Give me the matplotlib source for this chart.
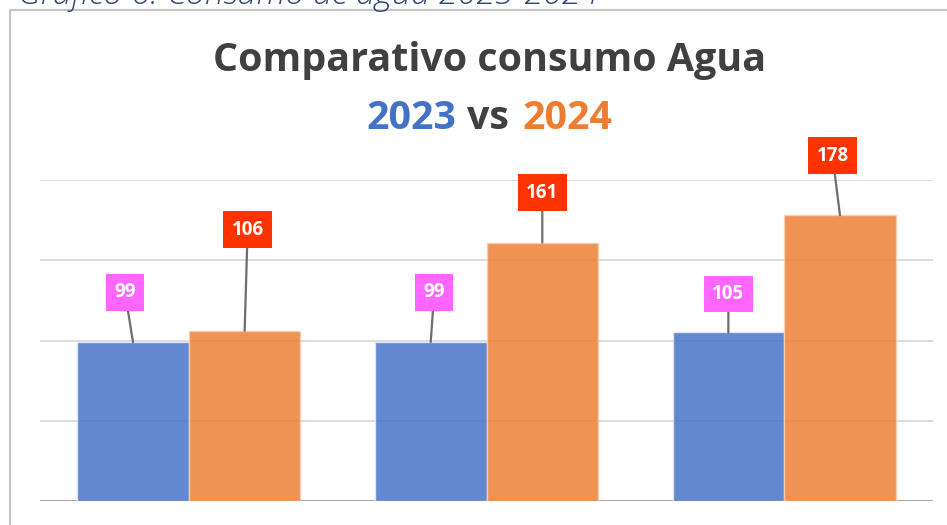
import matplotlib
matplotlib.use("Agg")
import matplotlib.pyplot as plt
from matplotlib.patches import Rectangle
import numpy as np

# Water consumption per period, 2023 vs 2024
periods = ["P1", "P2", "P3"]
consumo_2023 = [99, 99, 105]
consumo_2024 = [106, 161, 178]

# Label placement: (horizontal shift in category units, height above the bar value)
label_shift_2023 = [(-0.027, 31), (0.012, 31), (0.0, 24)]
label_shift_2024 = [(0.010, 63), (0.0, 31), (-0.025, 37)]

W, H = 947, 525
fig = plt.figure(figsize=(W / 100, H / 100), dpi=100)
fig.patch.set_facecolor("white")

def px(x, y):
    """Pixel coordinates (top-left origin) to figure fraction."""
    return x / W, 1 - y / H

# Chart frame
fig.patches.append(Rectangle((10 / W, 0 - 0.1), 1.2, (1 - 10 / H) + 0.1,
                             transform=fig.transFigure, fill=False,
                             edgecolor="#C4C4C4", linewidth=1.5, zorder=0))

# Caption above the frame
fig.text(*px(18, 4), "Gráfico 6. Consumo de agua 2023-2024", fontsize=24.5,
         style="italic", family="Open Sans", weight="light", color="#2F4677",
         ha="left", va="baseline")

# Chart title
title_font = dict(fontsize=28.4, weight="bold", family="Open Sans", va="baseline")
fig.text(*px(490, 71), "Comparativo consumo Agua", color="#404040",
         ha="center", **title_font)
fig.text(*px(456, 129), "2023", color="#4472C4", ha="right", **title_font)
fig.text(*px(488, 129), "vs", color="#404040", ha="center", **title_font)
fig.text(*px(522, 129), "2024", color="#ED7D31", ha="left", **title_font)

# Plot area
left, right, top, bottom = 40, 933, 180, 501
ax = fig.add_axes([left / W, 1 - bottom / H, (right - left) / W, (bottom - top) / H])
ax.set_xlim(-0.5, len(periods) - 0.5)
ax.set_ylim(0, 200)
for s in ax.spines.values():
    s.set_visible(False)
ax.set_xticks([])
ax.set_yticks([50, 100, 150, 200])
ax.tick_params(axis="y", length=0, labelleft=False)
ax.yaxis.grid(True, color="#D9D9D9", linewidth=1.3)
ax.set_axisbelow(True)
ax.axhline(0, color="#A6A6A6", linewidth=2.2, zorder=1)

x = np.arange(len(periods))
bw = 0.375
ax.bar(x - bw / 2, consumo_2023, bw, color="#4C78C9", alpha=0.88,
       edgecolor="#E6E9F2", linewidth=1, zorder=2)
ax.bar(x + bw / 2, consumo_2024, bw, color="#ED843C", alpha=0.88,
       edgecolor="#F6CFB2", linewidth=1, zorder=2)

def add_labels(xs, values, shifts, box_color):
    for xi, v, (dx, dy) in zip(xs, values, shifts):
        ax.annotate(str(v), xy=(xi, v), xytext=(xi + dx, v + dy),
                    ha="center", va="center", fontsize=13.5, weight="bold",
                    family="Open Sans", color="white", annotation_clip=False,
                    bbox=dict(boxstyle="square,pad=0.45", facecolor=box_color,
                              edgecolor="none"),
                    arrowprops=dict(arrowstyle="-", color="#6E6E6E", lw=1.6,
                                    shrinkA=0, shrinkB=0),
                    zorder=5)

add_labels(x - bw / 2, consumo_2023, label_shift_2023, "#FF66FF")
add_labels(x + bw / 2, consumo_2024, label_shift_2024, "#FF3300")

fig.savefig("out.png", dpi=100, facecolor="white")
